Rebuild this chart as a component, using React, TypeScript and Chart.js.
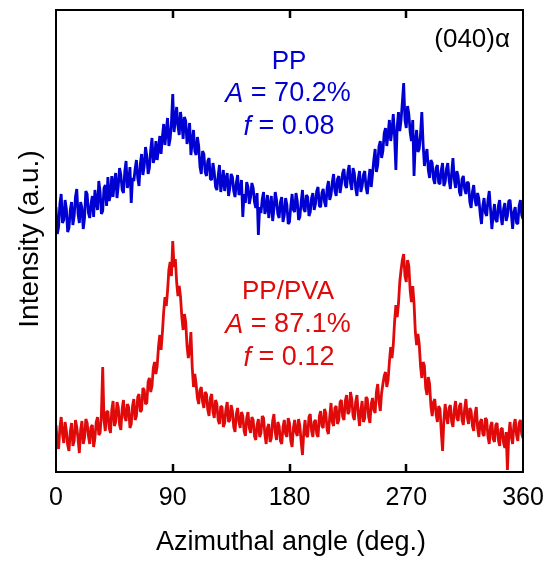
import React, { useEffect, useRef } from "react";
import { Chart, registerables } from "chart.js";

Chart.register(...registerables);

// Azimuthal angle sampling (deg.), 0..360 every 1 deg
const angles: number[] = Array.from({ length: 361 }, (_, i) => i);

// PP intensity (a.u.)
const ppIntensity: number[] = [
  265, 238, 245, 268, 278, 249, 252, 272, 263, 240,
  244, 262, 270, 247, 256, 275, 283, 258, 249, 270,
  264, 243, 254, 281, 278, 259, 254, 268, 276, 255,
  282, 270, 262, 291, 280, 258, 261, 284, 287, 266,
  295, 271, 277, 296, 275, 290, 299, 274, 286, 304,
  297, 282, 279, 300, 311, 284, 290, 305, 269, 294,
  291, 303, 312, 294, 286, 308, 318, 297, 306, 325,
  316, 298, 304, 322, 334, 309, 314, 331, 312, 323,
  336, 318, 335, 348, 327, 341, 354, 326, 333, 350,
  378, 340, 352, 365, 346, 337, 360, 349, 333, 355,
  351, 328, 335, 349, 317, 330, 342, 321, 317, 335,
  326, 305, 298, 321, 318, 300, 296, 311, 314, 293,
  292, 309, 300, 285, 282, 296, 307, 280, 290, 302,
  281, 293, 299, 276, 284, 298, 295, 281, 275, 289,
  297, 277, 281, 292, 255, 278, 269, 290, 285, 268,
  275, 289, 284, 270, 264, 279, 237, 265, 259, 273,
  280, 258, 263, 277, 254, 266, 276, 251, 263, 280,
  272, 258, 254, 270, 275, 250, 257, 274, 267, 248,
  250, 266, 278, 262, 260, 279, 271, 252, 255, 270,
  282, 263, 260, 277, 275, 256, 260, 274, 279, 262,
  268, 281, 285, 266, 265, 279, 283, 270, 265, 284,
  291, 272, 277, 290, 298, 281, 276, 293, 296, 279,
  288, 299, 303, 287, 284, 300, 307, 289, 282, 304,
  299, 284, 276, 293, 301, 280, 286, 297, 301, 285,
  278, 292, 303, 285, 298, 312, 323, 300, 307, 326,
  331, 314, 321, 339, 344, 326, 338, 352, 331, 342,
  358, 336, 302, 345, 360, 341, 352, 370, 389, 352,
  344, 366, 358, 340, 331, 352, 296, 330, 342, 320,
  323, 338, 360, 328, 306, 317, 323, 302, 294, 312,
  309, 293, 288, 304, 307, 289, 288, 302, 309, 286,
  290, 303, 309, 292, 283, 299, 314, 293, 284, 301,
  296, 280, 276, 293, 296, 283, 278, 290, 289, 270,
  264, 280, 287, 272, 266, 279, 273, 258, 248, 266,
  274, 259, 256, 272, 281, 262, 243, 257, 268, 252,
  250, 266, 272, 255, 247, 263, 269, 251, 256, 271,
  272, 258, 243, 260, 265, 249, 248, 266, 272, 257,
  253,
];

// PP/PVA intensity (a.u.)
const ppPvaIntensity: number[] = [
  47, 30, 23, 44, 55, 38, 29, 50, 41, 27,
  21, 40, 49, 26, 31, 52, 45, 33, 19, 42,
  51, 28, 34, 53, 49, 36, 28, 45, 47, 25,
  34, 50, 55, 37, 39, 58, 105, 52, 41, 60,
  61, 44, 39, 62, 71, 46, 50, 70, 65, 47,
  42, 63, 72, 55, 51, 68, 65, 44, 48, 66,
  73, 52, 56, 75, 78, 60, 62, 84, 82, 68,
  69, 90, 94, 80, 86, 104, 110, 98, 106, 125,
  137, 122, 139, 160, 175, 166, 181, 202, 210, 196,
  231, 205, 213, 190, 176, 186, 175, 155, 142, 158,
  150, 126, 114, 122, 140, 105, 85, 98, 88, 74,
  68, 82, 85, 70, 64, 80, 78, 62, 56, 74,
  78, 60, 54, 72, 68, 52, 48, 66, 65, 45,
  49, 63, 70, 50, 52, 67, 61, 45, 40, 58,
  64, 50, 44, 60, 56, 41, 36, 54, 60, 44,
  39, 55, 52, 36, 32, 47, 53, 35, 39, 56,
  54, 38, 28, 44, 48, 30, 34, 51, 58, 40,
  32, 50, 46, 31, 28, 45, 52, 38, 35, 54,
  49, 31, 25, 44, 52, 40, 36, 53, 46, 30,
  17, 40, 52, 37, 35, 55, 58, 41, 35, 50,
  52, 38, 35, 56, 61, 46, 44, 63, 59, 42,
  38, 55, 69, 50, 46, 64, 66, 48, 52, 70,
  72, 55, 52, 71, 77, 58, 60, 80, 73, 56,
  52, 70, 77, 58, 46, 62, 71, 50, 54, 75,
  73, 55, 49, 68, 74, 62, 59, 80, 88, 70,
  61, 79, 88, 96, 100, 85, 92, 110, 125, 114,
  127, 150, 167, 155, 168, 190, 202, 212, 218, 196,
  190, 212, 206, 182, 170, 186, 169, 140, 127, 138,
  128, 106, 94, 110, 106, 84, 77, 95, 88, 66,
  56, 70, 73, 58, 50, 66, 63, 40, 21, 52,
  68, 55, 48, 64, 67, 50, 45, 62, 71, 54,
  51, 66, 69, 52, 47, 63, 73, 55, 48, 64,
  61, 46, 41, 58, 65, 44, 35, 50, 53, 38,
  36, 54, 52, 35, 28, 46, 50, 33, 30, 47,
  49, 32, 26, 43, 44, 29, 24, 40, 2, 36,
  50, 35, 28, 47, 53, 37, 31, 49, 52, 38,
  34,
];

const xTicks: number[] = [0, 90, 180, 270, 360];

const FONT = '"Liberation Sans", Arial, sans-serif';
const BLUE = "#0000d2";
const RED = "#e00a0a";

type Seg = { text: string; italic?: boolean };

function drawSegs(ctx: CanvasRenderingContext2D, segs: Seg[], cx: number, cy: number, size: number, color: string) {
  const fonts = segs.map((s) => `${s.italic ? "italic " : ""}${size}px ${FONT}`);
  let total = 0;
  const widths = segs.map((s, i) => {
    ctx.font = fonts[i];
    const w = ctx.measureText(s.text).width;
    total += w;
    return w;
  });
  let x = cx - total / 2;
  ctx.fillStyle = color;
  ctx.textAlign = "left";
  ctx.textBaseline = "middle";
  segs.forEach((s, i) => {
    ctx.font = fonts[i];
    ctx.fillText(s.text, x, cy);
    x += widths[i];
  });
}

const framePlugin = {
  id: "frameAndText",
  afterDatasetsDraw(chart: any) {
    const { ctx, chartArea: a, scales } = chart;
    const xs = scales.x;
    ctx.save();
    ctx.strokeStyle = "#000";
    ctx.lineWidth = 2;
    ctx.strokeRect(a.left, a.top, a.right - a.left, a.bottom - a.top);
    ctx.lineWidth = 2.5;
    xTicks.forEach((t) => {
      if (t === 0 || t === 360) return;
      const px = Math.round(xs.getPixelForValue(t));
      ctx.beginPath();
      ctx.moveTo(px, a.top);
      ctx.lineTo(px, a.top + 8);
      ctx.moveTo(px, a.bottom);
      ctx.lineTo(px, a.bottom - 8);
      ctx.stroke();
    });

    const size = 26;
    ctx.font = `${size}px ${FONT}`;
    ctx.fillStyle = "#000";
    ctx.textAlign = "right";
    ctx.textBaseline = "middle";
    ctx.fillText("(040)\u03b1", 510, 40);

    drawSegs(ctx, [{ text: "PP" }], 289, 62, size, BLUE);
    drawSegs(ctx, [{ text: "A", italic: true }, { text: " = 70.2%" }], 288, 94, size + 1, BLUE);
    drawSegs(ctx, [{ text: "f", italic: true }, { text: " = 0.08" }], 289, 127, size + 1, BLUE);

    drawSegs(ctx, [{ text: "PP/PVA" }], 288, 292, size, RED);
    drawSegs(ctx, [{ text: "A", italic: true }, { text: " = 87.1%" }], 288, 325, size + 1, RED);
    drawSegs(ctx, [{ text: "f", italic: true }, { text: " = 0.12" }], 289, 358, size + 1, RED);

    drawSegs(ctx, [{ text: "Azimuthal angle (deg.)" }], 291, 543, 27, "#000");
    ctx.save();
    ctx.translate(30, 239);
    ctx.rotate(-Math.PI / 2);
    drawSegs(ctx, [{ text: "Intensity (a.u.)" }], 0, 0, 28, "#000");
    ctx.restore();
    ctx.restore();
  },
};

export default function App() {
  const ref = useRef<HTMLCanvasElement | null>(null);
  useEffect(() => {
    if (!ref.current) return;
    const chart = new Chart(ref.current, {
      type: "line",
      data: {
        datasets: [
          {
            label: "PP",
            data: angles.map((a, i) => ({ x: a, y: ppIntensity[i] })),
            borderColor: BLUE,
            borderWidth: 2.8,
            borderJoinStyle: "bevel",
            pointRadius: 0,
            tension: 0,
            fill: false,
          },
          {
            label: "PP/PVA",
            data: angles.map((a, i) => ({ x: a, y: ppPvaIntensity[i] })),
            borderColor: RED,
            borderWidth: 2.8,
            borderJoinStyle: "bevel",
            pointRadius: 0,
            tension: 0,
            fill: false,
          },
        ],
      },
      options: {
        responsive: false,
        animation: false,
        devicePixelRatio: 1,
        layout: { padding: { left: 56, right: 23, top: 10, bottom: 0 } },
        plugins: { legend: { display: false }, tooltip: { enabled: false } },
        scales: {
          x: {
            type: "linear",
            min: 0,
            max: 360,
            grid: { display: false },
            border: { display: false },
            afterFit: (s: any) => {
              s.height = 90;
              s.paddingLeft = 0;
              s.paddingRight = 0;
            },
            afterBuildTicks: (s: any) => {
              s.ticks = xTicks.map((v) => ({ value: v }));
            },
            ticks: {
              font: { family: FONT, size: 25 },
              color: "#000",
              padding: 3,
              maxRotation: 0,
              autoSkip: false,
            },
          },
          y: {
            display: false,
            min: 0,
            max: 462,
          },
        },
      },
      plugins: [framePlugin],
    });
    return () => chart.destroy();
  }, []);
  return (
    <div style={{ position: "absolute", left: 0, top: 0, width: 546, height: 562, background: "#fff" }}>
      <canvas ref={ref} width={546} height={562} />
    </div>
  );
}
